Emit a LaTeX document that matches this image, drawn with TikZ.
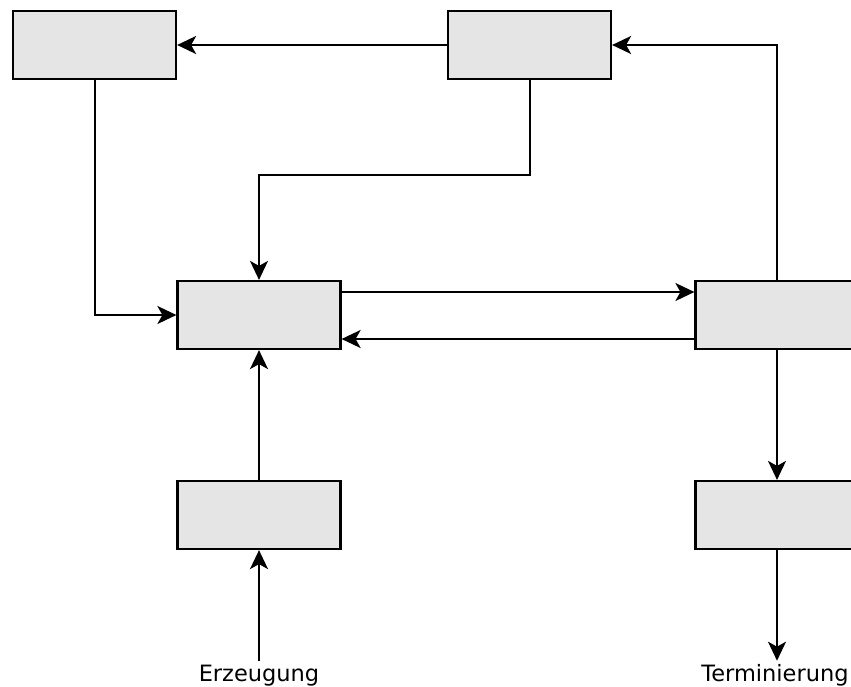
\documentclass[tikz,border=0pt]{standalone}
\usepackage{fontspec}
\setmainfont{DejaVu Sans}
\usetikzlibrary{arrows.meta}

\begin{document}
\begin{tikzpicture}[x=1pt,y=-1pt,
  box/.style={draw, line width=2.2pt, fill=gray!20, minimum width=163pt, minimum height=68pt, inner sep=0pt},
  link/.style={line width=2pt, -{Stealth[length=19pt,width=18pt,inset=5pt]}},
  lbl/.style={font=\fontsize{22.5}{27}\selectfont, inner sep=3pt, anchor=base}]
\useasboundingbox (0,0) rectangle (851,686);
\node[box] (Top1) at (94.5,45) {};
\node[box] (Top2) at (529.5,45) {};
\node[box] (Mid1) at (259,315) {};
\node[box] (Mid2) at (777,315) {};
\node[box] (Bot1) at (259,515) {};
\node[box] (Bot2) at (777,515) {};
\node[lbl] (In) at (259,681) {Erzeugung};
\node[lbl] (Out) at (775,681) {Terminierung};
\draw[link] (Top2.west) -- (Top1.east);
\draw[link] (Top1.south) |- (Mid1.west);
\draw[link] (Top2.south) -- ++(0,95) -| (Mid1.north);
\draw[link] (Mid1.east |- 0,292) -- (Mid2.west |- 0,292);
\draw[link] (Mid2.west |- 0,339) -- (Mid1.east |- 0,339);
\draw[link] (Mid2.north) |- (Top2.east);
\draw[link] (Mid2.south) -- (Bot2.north);
\draw[link] (Bot1.north) -- (Mid1.south);
\draw[link] (In.north -| Bot1.south) -- (Bot1.south);
\draw[link] (Bot2.south) -- (Bot2.south |- Out.north);
\end{tikzpicture}
\end{document}
